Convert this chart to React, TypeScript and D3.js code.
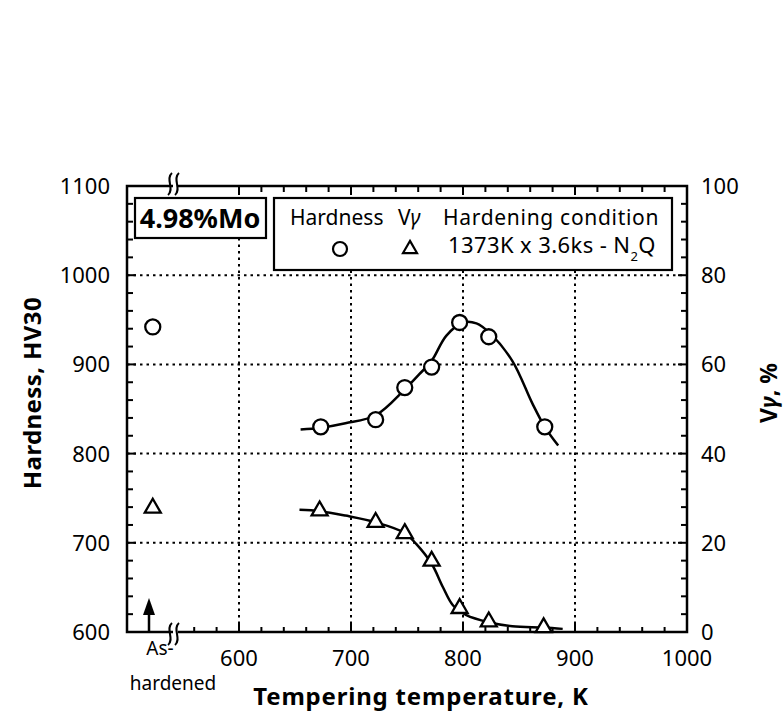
import React from "react";
import * as d3 from "d3";

const X_TICKS = [600, 700, 800, 900, 1000];
const HV_TICKS = [600, 700, 800, 900, 1000, 1100];
const VG_TICKS = [0, 20, 40, 60, 80, 100];
const X_GRID = [600, 700, 800, 900];
const HV_GRID = [700, 800, 900, 1000];

const T_CIRCLE = [673, 722, 748, 772, 797, 823, 873];
const HARDNESS = [830, 838, 874, 897, 947, 931, 830];
const T_TRI = [672, 722, 748, 772, 797, 823, 872];
const V_GAMMA = [27.2, 24.6, 22.1, 15.9, 5.3, 2.3, 1.0];

const AS_HARDENED_T = 523;
const AS_HARDENED_HV = 942;
const AS_HARDENED_VG = 27.8;

const HARD_FIT_T = [655, 673, 695, 722, 748, 761, 772, 785, 800, 812, 824, 844, 862, 873, 885];
const HARD_FIT_HV = [827, 829, 834, 843, 872, 889, 904, 932, 947, 946, 935, 904, 856, 830, 809];
const VG_FIT_T = [654, 672, 695, 722, 748, 758, 772, 782, 791, 803, 823, 844, 872, 889];
const VG_FIT_V = [27.4, 27.1, 26.1, 24.6, 22.2, 19.8, 15.3, 10.1, 6.0, 3.8, 2.2, 1.3, 1.0, 0.7];

const FONT = "'Noto Sans', 'DejaVu Sans', sans-serif";

const L = 127, R = 687, TOP = 186, BOT = 632;

export default function App() {
  const x = d3.scaleLinear().domain([500, 1000]).range([L, R]);
  const yH = d3.scaleLinear().domain([600, 1100]).range([BOT, TOP]);
  const yV = d3.scaleLinear().domain([0, 100]).range([BOT, TOP]);

  const line = d3.line<[number, number]>().curve(d3.curveCatmullRom.alpha(0.5));
  const hardPath = line(HARD_FIT_T.map((t, i) => [x(t), yH(HARD_FIT_HV[i])]));
  const vgPath = line(VG_FIT_T.map((t, i) => [x(t), yV(VG_FIT_V[i])]));

  const tri = (cx: number, cy: number, s = 16) => {
    const h = (s * Math.sqrt(3)) / 2;
    return `M${cx},${cy - (2 * h) / 3} L${cx + s / 2},${cy + h / 3} L${cx - s / 2},${cy + h / 3} Z`;
  };
  const squiggle = (cx: number, cy: number) =>
    [0, 7].map((dx) => {
      const xx = cx + dx;
      return `M${xx + 2},${cy - 11} C${xx - 5},${cy - 5} ${xx + 5},${cy + 5} ${xx - 2},${cy + 11}`;
    }).join(" ");

  const hvMinor = d3.range(600, 1101, 20);
  const vgMinor = d3.range(0, 101, 4);
  const topMinor = d3.range(600, 1001, 20);
  const botMinor = d3.range(560, 1001, 20);

  const sq = 172;

  return (
    <svg width={784} height={717} style={{ position: "absolute", left: 0, top: 0, background: "#fff" }} fontFamily={FONT}>
      <rect x={0} y={0} width={784} height={717} fill="#fff" />
      {/* grid */}
      {X_GRID.map((v) => (
        <line key={"gx" + v} x1={x(v)} x2={x(v)} y1={TOP} y2={BOT} stroke="#000" strokeWidth={2} strokeDasharray="2.5,4" />
      ))}
      {HV_GRID.map((v) => (
        <line key={"gy" + v} x1={L} x2={R} y1={yH(v)} y2={yH(v)} stroke="#000" strokeWidth={2} strokeDasharray="2.5,4" />
      ))}
      {/* ticks */}
      {hvMinor.map((v) => (
        <line key={"lt" + v} x1={L} x2={L + (v % 100 === 0 ? 9 : 6)} y1={yH(v)} y2={yH(v)} stroke="#000" strokeWidth={2} />
      ))}
      {vgMinor.map((v) => (
        <line key={"rt" + v} x1={R} x2={R - (v % 20 === 0 ? 9 : 6)} y1={yV(v)} y2={yV(v)} stroke="#000" strokeWidth={2} />
      ))}
      {topMinor.map((v) => (
        <line key={"tt" + v} x1={x(v)} x2={x(v)} y1={TOP} y2={TOP + (v % 100 === 0 ? 9 : 6)} stroke="#000" strokeWidth={2} />
      ))}
      {botMinor.map((v) => (
        <line key={"bt" + v} x1={x(v)} x2={x(v)} y1={BOT} y2={BOT - (v % 100 === 0 ? 9 : 5)} stroke="#000" strokeWidth={2} />
      ))}
      {/* frame */}
      <rect x={L} y={TOP} width={R - L} height={BOT - TOP} fill="none" stroke="#000" strokeWidth={2.5} />
      {/* breaks */}
      <rect x={sq + 1} y={TOP - 3} width={5} height={6} fill="#fff" />
      <rect x={sq + 1} y={BOT - 3} width={5} height={6} fill="#fff" />
      <path d={squiggle(sq - 2, TOP - 2)} fill="none" stroke="#000" strokeWidth={2} />
      <path d={squiggle(sq - 2, BOT + 2)} fill="none" stroke="#000" strokeWidth={2} />

      {/* boxes */}
      <rect x={135} y={198} width={131} height={40} fill="#fff" stroke="#000" strokeWidth={2.2} />
      <text x={200} y={228} textAnchor="middle" fontSize={27} fontWeight="bold">4.98%Mo</text>
      <rect x={274} y={198} width={398} height={72} fill="#fff" stroke="#000" strokeWidth={2.2} />
      <text x={290} y={225} fontSize={21}>Hardness</text>
      <text x={398} y={225} fontSize={21}>V<tspan fontStyle="italic">γ</tspan></text>
      <text x={443} y={225} fontSize={21} letterSpacing={0.7}>Hardening condition</text>
      <circle cx={340} cy={249} r={7} fill="#fff" stroke="#000" strokeWidth={2.2} />
      <path d={tri(410, 249, 14)} fill="#fff" stroke="#000" strokeWidth={2.2} />
      <text x={448} y={253} fontSize={22} letterSpacing={0.4}>1373K x 3.6ks - N<tspan fontSize={13} dy={8}>2</tspan><tspan dy={-8}>Q</tspan></text>

      {/* curves */}
      <path d={hardPath ?? ""} fill="none" stroke="#000" strokeWidth={2.5} />
      <path d={vgPath ?? ""} fill="none" stroke="#000" strokeWidth={2.5} />

      {/* markers */}
      {T_CIRCLE.map((t, i) => (
        <circle key={"c" + i} cx={x(t)} cy={yH(HARDNESS[i])} r={7.5} fill="#fff" stroke="#000" strokeWidth={2.3} />
      ))}
      {T_TRI.map((t, i) => (
        <path key={"t" + i} d={tri(x(t), yV(V_GAMMA[i]))} fill="#fff" stroke="#000" strokeWidth={2.3} />
      ))}
      <circle cx={x(AS_HARDENED_T)} cy={yH(AS_HARDENED_HV)} r={7.5} fill="#fff" stroke="#000" strokeWidth={2.3} />
      <path d={tri(x(AS_HARDENED_T), yV(AS_HARDENED_VG))} fill="#fff" stroke="#000" strokeWidth={2.3} />

      {/* arrow */}
      <line x1={149} x2={149} y1={BOT} y2={610} stroke="#000" strokeWidth={2.5} />
      <path d={`M149,598 L155,615 L143,615 Z`} fill="#000" />

      {/* tick labels */}
      {HV_TICKS.map((v) => (
        <text key={"hl" + v} x={110} y={yH(v) + 8} textAnchor="end" fontSize={22}>{v}</text>
      ))}
      {VG_TICKS.map((v) => (
        <text key={"vl" + v} x={701} y={yV(v) + 8} textAnchor="start" fontSize={22}>{v}</text>
      ))}
      {X_TICKS.map((v) => (
        <text key={"xl" + v} x={x(v)} y={666} textAnchor="middle" fontSize={22}>{v}</text>
      ))}
      <text x={160} y={655} textAnchor="middle" fontSize={19}>As-</text>
      <text x={173} y={690} textAnchor="middle" fontSize={19}>hardened</text>

      {/* axis titles */}
      <text x={421} y={705} textAnchor="middle" fontSize={24} fontWeight="bold" letterSpacing={0.8}>Tempering temperature, K</text>
      <text transform="translate(41,393) rotate(-90)" textAnchor="middle" fontSize={24} fontWeight="bold" letterSpacing={0.4}>Hardness, HV30</text>
      <text transform="translate(777,393) rotate(-90)" textAnchor="middle" fontSize={23} fontWeight="bold">V<tspan fontStyle="italic">γ</tspan>, %</text>
    </svg>
  );
}
